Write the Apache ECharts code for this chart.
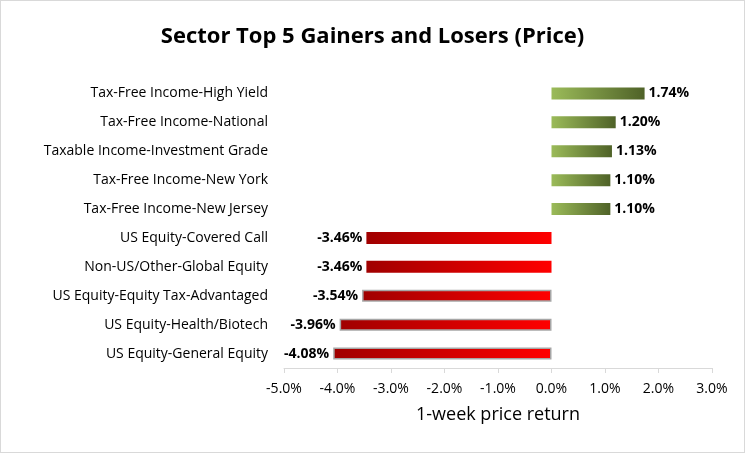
<!DOCTYPE html>
<html>
<head>
<meta charset="utf-8">
<script src="https://cdn.jsdelivr.net/npm/echarts@6/dist/echarts.min.js"></script>
<style>
html,body{margin:0;padding:0;background:#fff}
#chart{width:743px;height:451px;border:1px solid #d9d9d9}
</style>
</head>
<body>
<div id="chart"></div>
<script>
var categories = ['Tax-Free Income-High Yield', 'Tax-Free Income-National', 'Taxable Income-Investment Grade',
    'Tax-Free Income-New York', 'Tax-Free Income-New Jersey', 'US Equity-Covered Call',
    'Non-US/Other-Global Equity', 'US Equity-Equity Tax-Advantaged', 'US Equity-Health/Biotech',
    'US Equity-General Equity']
var returns = [1.74, 1.20, 1.13, 1.10, 1.10, -3.46, -3.46, -3.54, -3.96, -4.08]
var bordered = [false, false, false, false, false, false, false, true, true, true]

var font = 'Open Sans'
var green = new echarts.graphic.LinearGradient(0, 0, 1, 0, [
    { offset: 0, color: '#9bbb59' }, { offset: 1, color: '#4f6228' }])
var red = new echarts.graphic.LinearGradient(0, 0, 1, 0, [
    { offset: 0, color: '#a00000' }, { offset: 1, color: '#ff0000' }])

var data = returns.map(function (v, i) {
    return {
        value: v,
        itemStyle: {
            color: v >= 0 ? green : red,
            borderColor: bordered[i] ? '#a6a6a6' : 'transparent',
            borderWidth: bordered[i] ? 1.5 : 0
        },
        label: { position: v >= 0 ? 'right' : 'left' }
    }
})

var myChart = echarts.init(document.getElementById('chart'))
var option = {
    title: {
        text: 'Sector Top 5 Gainers and Losers (Price)',
        left: 'center', top: 20,
        textStyle: { fontFamily: font, fontSize: 22, fontWeight: 'bold', color: '#000' }
    },
    grid: { left: 283, right: 32, top: 78, bottom: 84 },
    xAxis: {
        type: 'value', min: -5, max: 3, interval: 1,
        name: '1-week price return', nameLocation: 'middle', nameGap: 38,
        nameTextStyle: { fontFamily: font, fontSize: 18, color: '#000' },
        axisLabel: { formatter: function (v) { return v.toFixed(1) + '%' }, fontFamily: font, fontSize: 14, color: '#000', margin: 14 },
        axisLine: { show: true, onZero: false, lineStyle: { color: '#d9d9d9' } },
        axisTick: { show: true, lineStyle: { color: '#d9d9d9' } },
        splitLine: { show: false }
    },
    yAxis: {
        type: 'category', data: categories, inverse: true,
        axisLine: { show: false }, axisTick: { show: false },
        axisLabel: { fontFamily: font, fontSize: 14, color: '#000', margin: 16 }
    },
    series: [{
        type: 'bar', data: data, barWidth: 12,
        label: {
            show: true, fontFamily: font, fontSize: 14, fontWeight: 'bold', color: '#000', distance: 4,
            formatter: function (p) { return p.value.toFixed(2) + '%' }
        }
    }]
}
myChart.setOption(option)
</script>
</body>
</html>
